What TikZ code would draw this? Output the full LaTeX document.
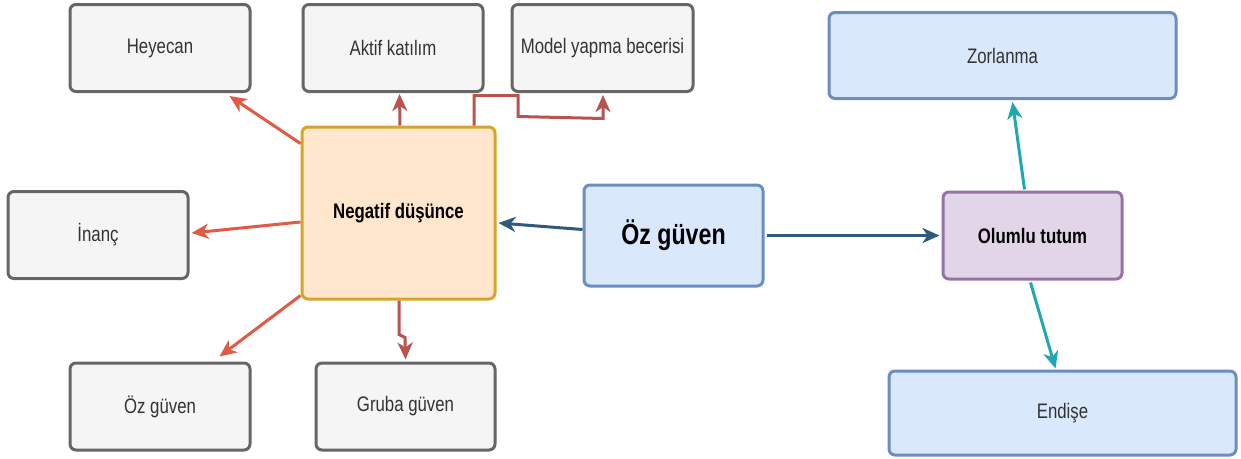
\documentclass[tikz,border=0pt]{standalone}
\usepackage{fontspec}
\setmainfont{Liberation Sans}[FakeStretch=0.8]
\usetikzlibrary{arrows.meta,calc}

\definecolor{grayfill}{HTML}{F5F5F5}
\definecolor{grayline}{HTML}{666666}
\definecolor{orangefill}{HTML}{FFE6CC}
\definecolor{orangeline}{HTML}{D6A52A}
\definecolor{bluefill}{HTML}{DAE8FC}
\definecolor{blueline}{HTML}{6C8EBF}
\definecolor{purplefill}{HTML}{E1D5E7}
\definecolor{purpleline}{HTML}{9673A6}
\definecolor{redarrow}{HTML}{E05A45}
\definecolor{darkred}{HTML}{B85450}
\definecolor{navy}{HTML}{2F5B7B}
\definecolor{teal}{HTML}{1FA8B2}
\definecolor{labelgray}{HTML}{333333}

\tikzset{
  box/.style={draw, line width=3pt, rounded corners=6pt, inner sep=2pt,
              align=center, font=\fontsize{21}{24}\selectfont},
  graybox/.style={box, draw=grayline, fill=grayfill, text=labelgray,
                  minimum width=180pt, minimum height=87pt},
  bluebox/.style={box, draw=blueline, fill=bluefill, text=labelgray,
                  minimum width=347pt, minimum height=86pt},
  boldlabel/.style={font=\bfseries\fontsize{21}{24}\selectfont},
  link/.style={line width=3pt, line join=miter,
               -{Stealth[length=17pt,width=15pt,inset=5pt]}},
  redlink/.style={link, draw=redarrow},
  darkredlink/.style={link, draw=darkred},
  navylink/.style={link, draw=navy},
  teallink/.style={link, draw=teal},
}

\begin{document}
\begin{tikzpicture}[x=1pt, y=-1pt]
\useasboundingbox (0,0) rectangle (1241,458);

% left cluster
\node[graybox] (heyecan) at (160,48) {Heyecan};
\node[graybox] (aktif)   at (393,48) {Aktif katılım};
\node[graybox, minimum width=181pt] (model) at (602.5,48) {Model yapma becerisi};
\node[graybox] (inanc)   at (98,235) {İnanç};
\node[graybox] (ozsol)   at (160,406.5) {Öz güven};
\node[graybox, minimum width=179pt] (gruba) at (405.5,406.5) {Gruba güven};

\node[box, boldlabel, draw=orangeline, fill=orangefill, minimum width=193pt,
      minimum height=172pt] (neg) at (398.5,213) {Negatif düşünce};

% centre
\node[box, draw=blueline, fill=bluefill, minimum width=179pt, minimum height=101pt,
      font=\bfseries\fontsize{29}{32}\selectfont] (ozc) at (673.5,235.5) {\raisebox{-5pt}{Öz güven}};

% right cluster
\node[box, boldlabel, draw=purpleline, fill=purplefill, minimum width=179pt,
      minimum height=87pt] (olumlu) at (1032.5,235.5) {Olumlu tutum};
\node[bluebox] (zorlanma) at (1002.5,55.5) {Zorlanma};
\node[bluebox, minimum height=84pt] (endise) at (1062.5,413) {Endişe};

% arrows out of Negatif düşünce
\draw[redlink] ($(neg.north west)+(0,18)$) -- ($(heyecan.south east)+(-22,3)$);
\draw[redlink] ($(neg.west)+(0,9)$) -- ($(inanc.east)+(2,-2)$);
\draw[redlink] ($(neg.south west)+(0,-5)$) -- ($(ozsol.north east)+(-32,-5)$);
\draw[darkredlink] ($(neg.north)+(1.5,0)$) -- ($(aktif.south)+(6.5,1)$);
\draw[darkredlink] ($(neg.north)+(75.5,0)$) -- ++(0,-30) -- ++(44,0) -- ++(0,21)
      -- ($(model.south)+(0.5,25.5)$) -- ($(model.south)+(0.5,2)$);
\draw[darkredlink] ($(neg.south)+(0.5,0)$) -- ++(0,34) -- ++(6,3) -- ($(gruba.north)+(0,-2)$);

% arrows out of the central Öz güven
\draw[navylink] ($(ozc.west)+(0,-6)$) -- ($(neg.east)+(2,10)$);
\draw[navylink] ($(ozc.east)+(2,0)$) -- ($(olumlu.west)+(-2,0)$);

% arrows out of Olumlu tutum
\draw[teallink] ($(olumlu.north)+(-8,-1)$) -- ($(zorlanma.south)+(10,2)$);
\draw[teallink] ($(olumlu.south)+(-2,2)$) -- ($(endise.north)+(-7,-1)$);
\end{tikzpicture}
\end{document}
